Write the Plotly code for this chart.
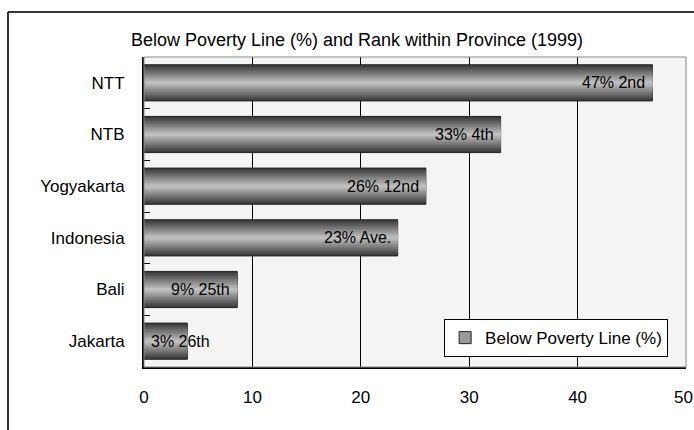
import plotly.graph_objects as go

# ---- data ----
regions = ["NTT", "NTB", "Yogyakarta", "Indonesia", "Bali", "Jakarta"]
poverty_pct = [46.9, 32.9, 26.0, 23.4, 8.6, 4.0]
bar_labels = ["47% 2nd", "33% 4th", "26% 12nd", "23% Ave.", "9% 25th", "3% 26th"]
x_tick_vals = [0, 10, 20, 30, 40, 50]
series_name = "Below Poverty Line (%)"
chart_title = "Below Poverty Line (%) and Rank within Province (1999)"

FONT = "Liberation Sans, Arial, sans-serif"

fig = go.Figure()

# gradient-like bars: overlaid layers, dark edges -> light centre
n_layers = 12
full_w = 0.70
dark = (58, 58, 58)
light = (190, 190, 190)
for i in range(n_layers):
    t = i / (n_layers - 1)
    c = tuple(int(dark[k] + (light[k] - dark[k]) * t) for k in range(3))
    w = full_w * (1 - i / n_layers)
    fig.add_trace(go.Bar(
        x=poverty_pct, y=regions, orientation="h",
        width=w,
        marker=dict(color="rgb(%d,%d,%d)" % c,
                    line=dict(color="#222222", width=1 if i == 0 else 0)),
        showlegend=False, hoverinfo="skip",
    ))

# legend-only entry
fig.add_trace(go.Bar(
    x=[None], y=[None], orientation="h", name=series_name,
    marker=dict(color="#9a9a9a", line=dict(color="#222222", width=1)),
    showlegend=True,
))

# bar value labels
for r, v, lab in zip(regions, poverty_pct, bar_labels):
    if v > 6:
        fig.add_annotation(x=v, y=r, text=lab, xanchor="right", xshift=-5,
                           showarrow=False, font=dict(family=FONT, size=16, color="black"))
    else:
        fig.add_annotation(x=0, y=r, text=lab, xanchor="left", xshift=5,
                           showarrow=False, font=dict(family=FONT, size=16, color="black"))

# last x tick label sits on the page edge (plotly hides it), draw it as text
fig.add_annotation(x=x_tick_vals[-1], xref="x", y=0, yref="paper", yanchor="middle",
                   yshift=-30, xshift=-3, text=str(x_tick_vals[-1]), showarrow=False,
                   font=dict(family=FONT, size=17, color="black"))

# outer frame (left & top visible)
fx = (8 - 144) / 542
fy = (367 - 12) / 310
fig.add_shape(type="line", xref="paper", yref="paper", x0=fx, x1=fx, y0=-0.4, y1=fy,
              line=dict(color="#333333", width=2))
fig.add_shape(type="line", xref="paper", yref="paper", x0=fx, x1=1.2, y0=fy, y1=fy,
              line=dict(color="#333333", width=2))
# plot-area border (grey)
fig.add_shape(type="rect", xref="paper", yref="paper", x0=0, x1=1, y0=0, y1=1,
              line=dict(color="#8a8a8a", width=1), layer="above")

fig.update_layout(
    width=694, height=430,
    margin=dict(l=144, r=8, t=57, b=63),
    paper_bgcolor="white",
    plot_bgcolor="#f4f4f4",
    barmode="overlay",
    font=dict(family=FONT, color="black"),
    title=dict(text=chart_title, x=357 / 694, xanchor="center",
               y=1 - 40 / 430, yanchor="middle",
               font=dict(family=FONT, size=18, color="black")),
    legend=dict(x=0.967, xanchor="right", y=0.032, yanchor="bottom",
                bgcolor="white", bordercolor="black", borderwidth=1,
                font=dict(family=FONT, size=17, color="black"),
                itemwidth=30),
    xaxis=dict(range=[0, 50], tickvals=x_tick_vals[:-1],
               ticks="", showgrid=True, gridcolor="black", gridwidth=1,
               showline=True, linecolor="black", linewidth=2,
               zeroline=False, ticklabelstandoff=14,
               tickfont=dict(family=FONT, size=17, color="black")),
    yaxis=dict(categoryorder="array", categoryarray=regions, autorange="reversed",
               ticks="inside", tickson="boundaries", ticklen=6, tickcolor="black",
               showline=True, linecolor="black", linewidth=2,
               showgrid=False, ticklabelstandoff=14,
               tickfont=dict(family=FONT, size=17, color="black")),
)

fig.write_html("out.html")
